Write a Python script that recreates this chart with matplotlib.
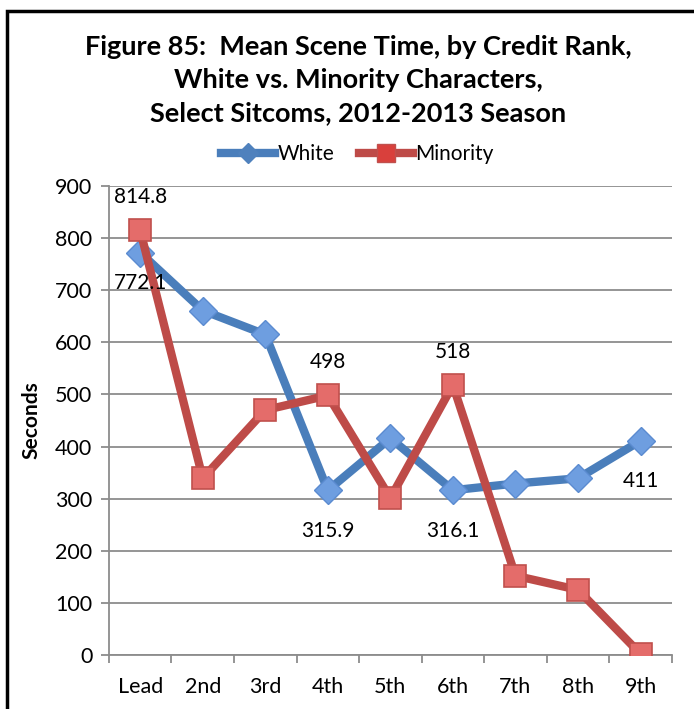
import matplotlib
matplotlib.use('Agg')
import matplotlib.pyplot as plt
from matplotlib.patches import Rectangle
from matplotlib.lines import Line2D

# chart data
ranks = ['Lead', '2nd', '3rd', '4th', '5th', '6th', '7th', '8th', '9th']
white = [772.1, 661, 615, 315.9, 416, 316.1, 329, 339, 411]
minority = [814.8, 339, 470, 498, 301, 518, 152, 125, 2]

# which points get a value label
white_labels = [0, 3, 5, 8]      # below the point
minority_labels = [0, 3, 5]      # above the point

plt.rcParams['font.family'] = ['Lato', 'DejaVu Sans']

blue = '#4A7EBB'
red = '#BE4B48'
grid_gray = '#8C8C8C'

fig = plt.figure(figsize=(6.94, 7.09), dpi=100)
ax = fig.add_axes([0.157, 0.0762, 0.811, 0.6615])

x = list(range(len(ranks)))
ax.plot(x, white, color=blue, lw=6, marker='D', ms=14,
        markerfacecolor='#6E9EE0', markeredgecolor='#5B8BD0', markeredgewidth=1,
        zorder=3, label='White')
ax.plot(x, minority, color=red, lw=6, marker='s', ms=16.5,
        markerfacecolor='#E46C6A', markeredgecolor='#C0504D', markeredgewidth=1.2,
        zorder=4, label='Minority')

# value labels
for i in white_labels:
    dy = -22 if i == 0 else -29
    ax.annotate(f'{white[i]:g}', (x[i], white[i]), xytext=(0, dy),
                textcoords='offset points', ha='center', va='center', fontsize=15, zorder=5)
for i in minority_labels:
    ax.annotate(f'{minority[i]:g}', (x[i], minority[i]), xytext=(0, 24),
                textcoords='offset points', ha='center', va='center', fontsize=15, zorder=5)

ax.set_xlim(-0.5, len(ranks) - 0.5)
ax.set_ylim(0, 900)
ax.set_yticks(range(0, 901, 100))
ax.yaxis.grid(True, color=grid_gray, lw=1.3)
ax.set_axisbelow(True)

ax.set_xticks(x)
ax.set_xticklabels(ranks, fontsize=15.5)
ax.tick_params(axis='x', which='major', length=0, pad=16)
ax.set_xticks([i - 0.5 for i in range(len(ranks) + 1)], minor=True)
ax.tick_params(axis='x', which='minor', length=6, width=1.3, color=grid_gray)
ax.tick_params(axis='y', length=6, width=1.3, color=grid_gray, labelsize=15.5, pad=6)

for s in ['top', 'right']:
    ax.spines[s].set_visible(False)
for s in ['left', 'bottom']:
    ax.spines[s].set_color(grid_gray)
    ax.spines[s].set_linewidth(1.3)

ax.set_ylabel('Seconds', fontsize=15, fontweight='bold', labelpad=10)

fig.text(0.516, 0.887,
         'Figure 85:  Mean Scene Time, by Credit Rank,\nWhite vs. Minority Characters,\nSelect Sitcoms, 2012-2013 Season',
         ha='center', va='center', fontsize=19.5, fontweight='bold', linespacing=1.45)

handles = [Line2D([], [], color=blue, lw=6, marker='D', ms=10, markerfacecolor='#4F81BD', markeredgecolor='#4F81BD'),
           Line2D([], [], color=red, lw=6, marker='s', ms=13, markerfacecolor='#D9403C', markeredgecolor='#C0504D')]
fig.legend(handles, ['White', 'Minority'], loc='center', bbox_to_anchor=(0.515, 0.783),
           ncol=2, frameon=False, fontsize=15, handlelength=2.6, handletextpad=0.1,
           columnspacing=1.2)

# outer chart frame (cut off at right and bottom in the original)
fig.patches.append(Rectangle((0.01, -0.05), 1.1, 0.035 + 1.0, transform=fig.transFigure,
                             fill=False, edgecolor='black', lw=2.5))

fig.savefig('out.png', dpi=100)
